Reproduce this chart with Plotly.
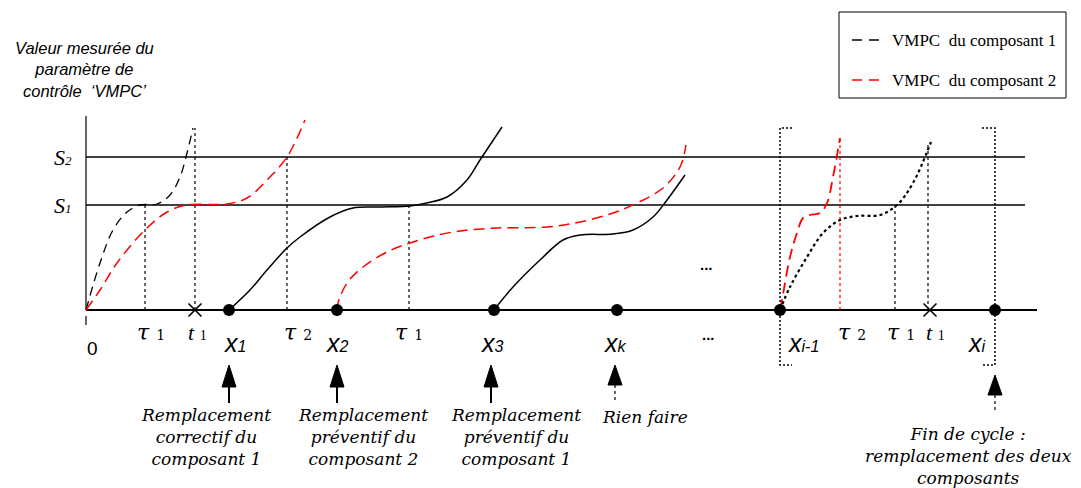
import plotly.graph_objects as go

# ---- data (time units on x, measured VMPC on y; 0 = baseline) ----
S1 = 105
S2 = 153
T0 = 86
T_END = 1037
S_END = 1025
Y_TOP = 194

# cycle 1
c1_t = [86, 100, 113, 127, 140, 157, 170, 180, 187, 193]
c1_v = [0, 47, 80, 98, 105, 106, 115, 133, 157, 182]
c2_t = [86, 100, 117, 143, 167, 187, 227, 247, 267, 287, 305]
c2_v = [0, 20, 47, 78, 98, 105, 106, 112, 130, 153, 190]
# after X1 (component 1 renewed)
c1b_t = [229, 250, 267, 287, 300, 330, 353, 380, 410, 427, 447, 467, 480, 502]
c1b_v = [0, 20, 40, 62, 73, 93, 102, 103, 104, 107, 113, 130, 150, 183]
# after X2 (component 2 renewed)
c2b_t = [337, 338, 347, 363, 387, 413, 453, 497, 547, 580, 613, 637, 663, 680, 686]
c2b_v = [0, 7, 27, 43, 58, 68, 78, 82, 83, 88, 97, 107, 122, 143, 165]
# after X3 (component 1 renewed)
c1c_t = [494, 513, 540, 563, 580, 613, 633, 653, 667, 685]
c1c_v = [0, 23, 50, 70, 75, 76, 80, 93, 110, 135]
# last cycle
c2d_t = [780, 782, 790, 797, 803, 810, 820, 827, 833, 840]
c2d_v = [0, 10, 53, 77, 92, 95, 97, 107, 133, 172]
c1d_t = [780, 790, 807, 823, 840, 857, 880, 897, 913, 931]
c1d_v = [0, 23, 53, 77, 90, 94, 95, 105, 127, 168]

# dotted threshold-crossing lines
vl_t = [145, 195, 287, 409, 895, 928]
vl_v = [105, 182, 153, 104, 105, 168]
vl_red_t = [840]
vl_red_v = [172]

# inspection points and failures
insp_t = [229, 337, 494, 617, 780, 995]
fail_t = [195, 930]

# labels under axis
xlab_t = [235, 337, 492, 615, 803, 977]
xlab_sub = ["1", "2", "3", "k", "i-1", "i"]
tau_t = [151, 298, 409, 852, 901]
tau_sub = ["1", "2", "1", "2", "1"]
t1_t = [197, 935]

# arrows
arr_t = [229, 337, 491, 615, 995]
arr_tip = [-55, -55, -55, -55, -65]
arr_base = [-77, -77, -77, -75, -85]
arr_tail = [-93, -93, -93, -93, -103]
arr_dotted = [False, False, False, True, True]

ann_t = [206, 363, 516, 645, 968]
ann_v = [-127, -127, -127, -107, -146]
ann_txt = ["Remplacement<br>correctif du<br>composant 1",
           "Remplacement<br>préventif du<br>composant 2",
           "Remplacement<br>préventif du<br>composant 1",
           "Rien faire",
           "Fin de cycle :<br>remplacement des deux<br>composants"]

fig = go.Figure()
BLACK = "black"
RED = "#ff0000"

def add_line(x, y, color, width=1.5, dash="solid", shape="linear"):
    fig.add_trace(go.Scatter(x=x, y=y, mode="lines",
                             line=dict(color=color, width=width, dash=dash, shape=shape, smoothing=1.0),
                             hoverinfo="skip", showlegend=False))

# axes
add_line([T0, T0], [0, Y_TOP], BLACK, 1.2)
add_line([T0, T0], [-6, -15], BLACK, 1.2)
add_line([T0, T_END], [0, 0], BLACK, 1.8)
add_line([T0, S_END], [S1, S1], BLACK, 1.5)
add_line([T0, S_END], [S2, S2], BLACK, 1.5)

# vertical dotted lines
for t, v in zip(vl_t, vl_v):
    add_line([t, t], [0, v], BLACK, 1.2, "dot")
for t, v in zip(vl_red_t, vl_red_v):
    add_line([t, t], [0, v], RED, 1.2, "dot")

# brackets for last cycle
add_line([792, 780, 780, 792], [182, 182, -55, -55], BLACK, 1.5, "2px,2px")
add_line([982, 995, 995, 982], [182, 182, -55, -55], BLACK, 1.5, "2px,2px")

# curves
add_line(c1_t, c1_v, BLACK, 1.3, "9px,6px", "spline")
add_line(c2_t, c2_v, RED, 1.5, "11px,6px", "spline")
add_line(c1b_t, c1b_v, BLACK, 1.5, "solid", "spline")
add_line(c2b_t, c2b_v, RED, 1.5, "11px,6px", "spline")
add_line(c1c_t, c1c_v, BLACK, 1.5, "solid", "spline")
add_line(c2d_t, c2d_v, RED, 1.8, "11px,6px", "spline")
add_line(c1d_t, c1d_v, BLACK, 2.2, "3px,3px", "spline")

# markers
fig.add_trace(go.Scatter(x=insp_t, y=[0] * len(insp_t), mode="markers",
                         marker=dict(color=BLACK, size=12), hoverinfo="skip", showlegend=False))
fig.add_trace(go.Scatter(x=fail_t, y=[0] * len(fail_t), mode="markers",
                         marker=dict(symbol="x-thin-open", size=13, color=BLACK,
                                     line=dict(color=BLACK, width=1.6)),
                         hoverinfo="skip", showlegend=False))

# arrows
for t, tip, base, tail, dotted in zip(arr_t, arr_tip, arr_base, arr_tail, arr_dotted):
    add_line([t, t], [base, tail], BLACK, 1.2 if dotted else 2, "dot" if dotted else "solid")
    fig.add_trace(go.Scatter(x=[t - 7, t, t + 7, t - 7], y=[base, tip, base, base], mode="lines",
                             fill="toself", fillcolor=BLACK, line=dict(color=BLACK, width=1),
                             hoverinfo="skip", showlegend=False))

# legend box
fig.add_shape(type="rect", x0=839, x1=1066, y0=298, y1=212, line=dict(color=BLACK, width=1))
add_line([852, 882], [270, 270], BLACK, 1.5, "10px,7px")
add_line([852, 882], [230, 230], RED, 1.5, "10px,7px")

anns = []
serif = "Liberation Serif"
anns.append(dict(x=890, y=270, text="VMPC  du composant 1", xanchor="left", yanchor="middle",
                 font=dict(family=serif, size=17, color=BLACK)))
anns.append(dict(x=890, y=230, text="VMPC  du composant 2", xanchor="left", yanchor="middle",
                 font=dict(family=serif, size=17, color=BLACK)))
# y-axis title
anns.append(dict(x=84, y=241, text="Valeur mesurée du<br>paramètre de<br>contrôle  ‘VMPC’",
                 xanchor="center", yanchor="middle",
                 font=dict(family="Liberation Sans", size=16.5, color=BLACK, style="italic")))
# threshold labels
anns.append(dict(x=63, y=S2, text="S<span style='font-size:13px'>2</span>", xanchor="center", yanchor="middle",
                 font=dict(family=serif, size=22, color=BLACK, style="italic")))
anns.append(dict(x=63, y=S1, text="S<span style='font-size:13px'>1</span>", xanchor="center", yanchor="middle",
                 font=dict(family=serif, size=22, color=BLACK, style="italic")))
# zero
anns.append(dict(x=92, y=-38, text="0", xanchor="center", yanchor="middle",
                 font=dict(family="Liberation Sans", size=19, color=BLACK)))
for t, s in zip(xlab_t, xlab_sub):
    anns.append(dict(x=t, y=-33, text="x<span style='font-size:16px'>" + s + "</span>",
                     xanchor="center", yanchor="middle",
                     font=dict(family="Liberation Sans", size=25, color=BLACK, style="italic")))
for t, s in zip(tau_t, tau_sub):
    anns.append(dict(x=t, y=-22, text="<i>τ</i> <span style='font-size:14px'>" + s + "</span>",
                     xanchor="center", yanchor="middle",
                     font=dict(family="DejaVu Serif", size=22, color=BLACK)))
for t in t1_t:
    anns.append(dict(x=t, y=-22, text="<i>t</i> <span style='font-size:14px'>1</span>",
                     xanchor="center", yanchor="middle",
                     font=dict(family=serif, size=22, color=BLACK)))
# ellipses
anns.append(dict(x=706, y=46, text="<b>...</b>", xanchor="center", yanchor="middle",
                 font=dict(family="Liberation Sans", size=15, color=BLACK)))
anns.append(dict(x=708, y=-24, text="<b>...</b>", xanchor="center", yanchor="middle",
                 font=dict(family="Liberation Sans", size=15, color=BLACK)))
for t, v, txt in zip(ann_t, ann_v, ann_txt):
    anns.append(dict(x=t, y=v, text=txt, xanchor="center", yanchor="middle",
                     font=dict(family="DejaVu Serif", size=17, color=BLACK, style="italic")))

for a in anns:
    a.update(showarrow=False, xref="x", yref="y")

fig.update_layout(
    width=1081, height=488,
    margin=dict(l=0, r=0, t=0, b=0),
    paper_bgcolor="white", plot_bgcolor="white",
    xaxis=dict(range=[0, 1081], visible=False, fixedrange=True),
    yaxis=dict(range=[-178, 310], visible=False, fixedrange=True),
    annotations=anns,
    showlegend=False,
)

fig.write_html("out.html", config={"displayModeBar": False},
               post_script="document.body.style.margin='0';document.body.style.overflow='hidden';")
